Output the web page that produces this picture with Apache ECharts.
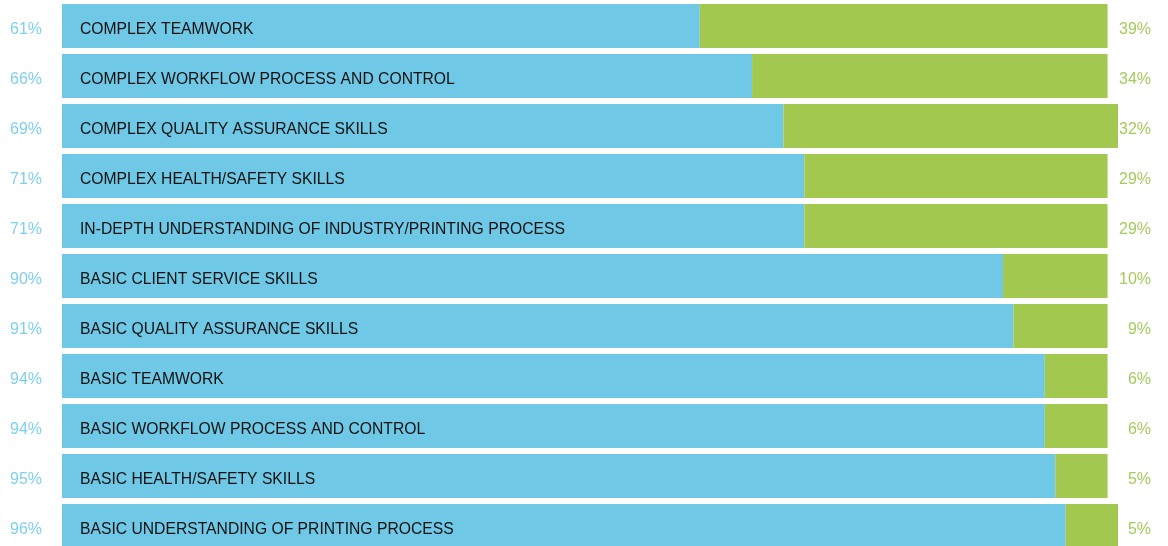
<!DOCTYPE html>
<html>
<head>
<meta charset="utf-8">
<script src="https://cdn.jsdelivr.net/npm/echarts@6/dist/echarts.min.js"></script>
<style>
  html, body { margin: 0; padding: 0; background: #ffffff; overflow: hidden; }
  #chart { width: 1168px; height: 552px; }
</style>
</head>
<body>
<div id="chart"></div>
<script>
// Skill areas, top to bottom
const skills = [
  'COMPLEX TEAMWORK',
  'COMPLEX WORKFLOW PROCESS AND CONTROL',
  'COMPLEX QUALITY ASSURANCE SKILLS',
  'COMPLEX HEALTH/SAFETY SKILLS',
  'IN-DEPTH UNDERSTANDING OF INDUSTRY/PRINTING PROCESS',
  'BASIC CLIENT SERVICE SKILLS',
  'BASIC QUALITY ASSURANCE SKILLS',
  'BASIC TEAMWORK',
  'BASIC WORKFLOW PROCESS AND CONTROL',
  'BASIC HEALTH/SAFETY SKILLS',
  'BASIC UNDERSTANDING OF PRINTING PROCESS'
];
// Share of responses (%), blue part and green part
const bluePct  = [61, 66, 69, 71, 71, 90, 91, 94, 94, 95, 96];
const greenPct = [39, 34, 32, 29, 29, 10, 9, 6, 6, 5, 5];

const BLUE = '#6ec8e6';
const GREEN = '#a2c850';
const FONT = 'Liberation Sans, Arial, Helvetica, sans-serif';

const pctLabel = (color, margin, values) => ({
  margin: margin, align: 'right',
  verticalAlign: 'top', lineHeight: 7,
  color: color, fontFamily: FONT, fontSize: 16,
  formatter: (v, i) => values[i] + '%'
});

const chart = echarts.init(document.getElementById('chart'));
chart.setOption({
  animation: false,
  grid: { left: 62, right: 50, top: 1, height: 550, containLabel: false },
  xAxis: {
    type: 'value', min: 0, max: 101,
    show: false
  },
  yAxis: [
    {
      type: 'category', data: skills, inverse: true, position: 'left',
      axisLine: { show: false }, axisTick: { show: false }, splitLine: { show: false },
      axisLabel: pctLabel('#7fcfef', 20, bluePct)
    },
    {
      type: 'category', data: skills, inverse: true, position: 'right',
      axisLine: { show: false }, axisTick: { show: false }, splitLine: { show: false },
      axisLabel: pctLabel('#a5cb5c', 33, greenPct)
    }
  ],
  series: [
    {
      type: 'bar', stack: 'share', yAxisIndex: 0,
      data: bluePct, barCategoryGap: '12%', clip: false,
      itemStyle: { color: BLUE },
      label: {
        show: true, position: 'insideLeft', distance: 18,
        offset: [0, 3.5],
        color: '#111111', fontFamily: FONT, fontSize: 15.7,
        formatter: p => skills[p.dataIndex]
      }
    },
    {
      type: 'bar', stack: 'share', yAxisIndex: 0,
      data: greenPct, barCategoryGap: '12%', clip: false,
      itemStyle: { color: GREEN }
    }
  ]
});
</script>
</body>
</html>
